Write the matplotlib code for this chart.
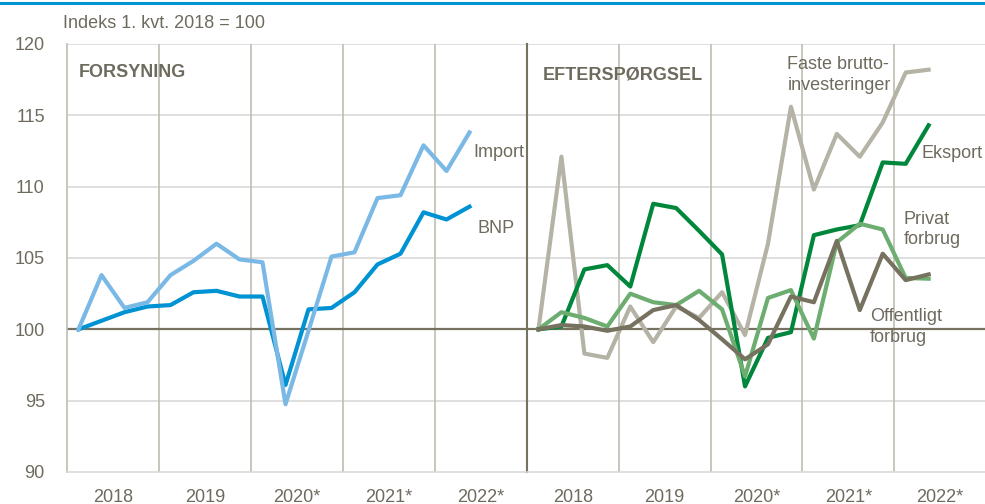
import matplotlib
matplotlib.use("Agg")
import matplotlib.pyplot as plt
import numpy as np

plt.rcParams['font.family'] = ['Liberation Sans', 'DejaVu Sans']

# kvartaler 1. kvt. 2018 - 2. kvt. 2022
years = ['2018', '2019', '2020*', '2021*', '2022*']
kvartal = np.arange(18)

# forsyning
importen = [100, 103.8, 101.5, 101.9, 103.8, 104.8, 106.0, 104.9, 104.7, 94.75,
            99.9, 105.1, 105.4, 109.2, 109.4, 112.9, 111.1, 113.8]
bnp = [100, 100.6, 101.2, 101.6, 101.7, 102.6, 102.7, 102.3, 102.3, 96.1,
       101.4, 101.5, 102.6, 104.55, 105.3, 108.2, 107.7, 108.6]

# efterspoergsel
faste = [100, 112.1, 98.3, 98.0, 101.6, 99.1, 101.6, 100.8, 102.6, 99.6,
         106.0, 115.6, 109.8, 113.7, 112.1, 114.5, 118.0, 118.2]
eksport = [100, 100.2, 104.2, 104.5, 103.0, 108.8, 108.5, 106.9, 105.25, 96.0,
           99.4, 99.8, 106.6, 107.0, 107.3, 111.7, 111.6, 114.3]
privat = [100, 101.2, 100.8, 100.2, 102.5, 101.9, 101.7, 102.7, 101.4, 96.7,
          102.2, 102.75, 99.35, 106.1, 107.4, 107.0, 103.6, 103.55]
offentligt = [100, 100.3, 100.2, 99.9, 100.2, 101.35, 101.7, 100.65, 99.3, 97.9,
              98.95, 102.3, 101.9, 106.2, 101.35, 105.3, 103.45, 103.85]

txt = '#6e6b5e'
fig = plt.figure(figsize=(9.85, 5.04), dpi=100)
ax1 = fig.add_axes([67/985, 1-472/504, 460/985, 428/504])
ax2 = fig.add_axes([527/985, 1-472/504, 459/985, 428/504], sharey=ax1)

x = kvartal + 0.5
for ax in (ax1, ax2):
    ax.patch.set_alpha(0)
    ax.set_xlim(0, 20)
    ax.set_ylim(90, 120)
    ax.set_yticks([90, 95, 100, 105, 110, 115, 120])
    for yy in [95, 105, 110, 115, 120]:
        ax.axhline(yy, color='#d9d9d9', lw=1.2, zorder=0)
    for xx in [4, 8, 12, 16]:
        ax.axvline(xx, color='#bfbdb2', lw=1.2, zorder=0)
    ax.axhline(100, color='#76725f', lw=1.6, zorder=1)
    ax.set_xticks([2, 6, 10, 14, 18])
    ax.set_xticklabels(years)
    ax.tick_params(length=0, labelsize=13, colors=txt, pad=12)
    for s in ['top', 'right']:
        ax.spines[s].set_visible(False)
    ax.spines['bottom'].set_color('#d9d9d9')
    ax.spines['bottom'].set_linewidth(1.2)

ax1.spines['left'].set_color('#bfbdb2')
ax1.spines['left'].set_linewidth(1.2)
ax1.tick_params(axis='y', pad=16)
ax2.spines['left'].set_color('#76725f')
ax2.spines['left'].set_linewidth(1.5)
ax2.tick_params(axis='y', labelleft=False)

ax1.plot(x, bnp, color='#0093d3', lw=3, zorder=3)
ax1.plot(x, importen, color='#7ab9e6', lw=3, zorder=3)

ax2.plot(x, faste, color='#b5b3a6', lw=3, zorder=3)
ax2.plot(x, eksport, color='#00873c', lw=3, zorder=3)
ax2.plot(x, privat, color='#6dad70', lw=3, zorder=3)
ax2.plot(x, offentligt, color='#76725f', lw=3, zorder=3)

fs = 13
kw = dict(fontsize=fs, color=txt, va='center', linespacing=1.3, zorder=5)
ax1.text(0.5, 118, 'FORSYNING', fontsize=13, fontweight='bold', color=txt, va='center')
ax2.text(0.7, 117.8, 'EFTERSPØRGSEL', fontsize=13, fontweight='bold', color=txt, va='center')
ax1.text(17.65, 112.4, 'Import', **kw)
ax1.text(17.85, 107.1, 'BNP', **kw)
ax2.text(11.35, 117.8, 'Faste brutto-\ninvesteringer', **kw)
ax2.text(17.2, 112.3, 'Eksport', **kw)
ax2.text(16.4, 107.0, 'Privat\nforbrug', **kw)
ax2.text(14.95, 100.15, 'Offentligt\nforbrug', **kw)

fig.text(63/985, 1-24/504, 'Indeks 1. kvt. 2018 = 100', fontsize=13, color=txt, va='center')
fig.add_artist(plt.Line2D([0, 1], [1-3/504, 1-3/504], color='#0094d4', lw=2.2))

fig.savefig('out.png', dpi=100)
